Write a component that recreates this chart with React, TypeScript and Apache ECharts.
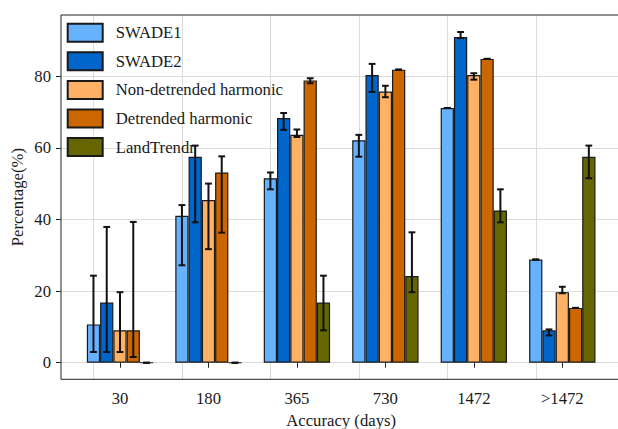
import React, { useEffect, useRef } from "react";
import * as echarts from "echarts";

const categories = ["30", "180", "365", "730", "1472", ">1472"];
const seriesNames = ["SWADE1", "SWADE2", "Non-detrended harmonic", "Detrended harmonic", "LandTrendr"];
const seriesColors = ["#66B2FF", "#0066CC", "#FFB266", "#CC6600", "#666600"];

const swade1 = [10.7, 41.0, 51.5, 62.1, 71.1, 28.8];
const swade1Low = [3.0, 27.2, 48.4, 57.5, 71.1, 28.8];
const swade1High = [24.3, 44.0, 53.1, 63.6, 71.1, 28.8];

const swade2 = [16.8, 57.5, 68.3, 80.3, 90.9, 9.05];
const swade2Low = [3.0, 39.2, 65.0, 75.6, 90.6, 7.6];
const swade2High = [37.9, 60.6, 69.7, 83.4, 92.3, 9.3];

const nonDet = [9.05, 45.4, 63.6, 75.7, 80.3, 19.7];
const nonDetLow = [3.0, 31.7, 63.0, 74.1, 79.0, 19.4];
const nonDetHigh = [19.7, 50.0, 65.1, 77.3, 80.8, 21.2];

const det = [9.05, 53.1, 78.8, 81.8, 84.8, 15.3];
const detLow = [1.6, 36.3, 78.0, 81.8, 84.8, 15.3];
const detHigh = [39.3, 57.6, 79.4, 81.8, 84.8, 15.3];

const landTrendr = [0, 0, 16.8, 24.2, 42.5, 57.5];
const landTrendrLow = [0, 0, 9.05, 19.7, 39.2, 51.5];
const landTrendrHigh = [0, 0, 24.3, 36.4, 48.4, 60.6];

const yTicks = [0, 20, 40, 60, 80];

const values = [swade1, swade2, nonDet, det, landTrendr];
const lows = [swade1Low, swade2Low, nonDetLow, detLow, landTrendrLow];
const highs = [swade1High, swade2High, nonDetHigh, detHigh, landTrendrHigh];

const W = 618;
const H = 429;
const Y_MIN = -4.62;
const Y_MAX = 97.05;
const PLOT_TOP = 15;
const PLOT_BOTTOM = 49.7;
const PLOT_H = H - PLOT_TOP - PLOT_BOTTOM;
const FONT = "'Liberation Serif', 'Times New Roman', serif";
const FS = 16.7;
const BAND_FRAC = 0.15;

export default function App() {
  const ref = useRef<HTMLDivElement>(null);
  useEffect(() => {
    if (!ref.current) return;
    const chart = echarts.init(ref.current, null, { renderer: "svg" });
    const range = Y_MAX - Y_MIN;
    const tMax = yTicks[yTicks.length - 1];
    const g1Top = PLOT_TOP + ((Y_MAX - tMax) / range) * PLOT_H;
    const g1Bottom = PLOT_BOTTOM + ((yTicks[0] - Y_MIN) / range) * PLOT_H;

    const errData: number[][] = [];
    values.forEach((_, k) => {
      categories.forEach((_c, i) => {
        errData.push([i, lows[k][i], highs[k][i], k]);
      });
    });

    const barSeries = seriesNames.map((name, k) => ({
      name,
      type: "bar",
      xAxisIndex: 0,
      yAxisIndex: 0,
      data: values[k],
      barGap: "0%",
      barCategoryGap: "25%",
      z: 2,
      itemStyle: { color: seriesColors[k], borderColor: "#1a1a1a", borderWidth: 1.2 },
      ...(k === 0
        ? {
            markLine: {
              silent: true,
              symbol: "none",
              z: 1,
              animation: false,
              label: { show: false },
              lineStyle: { color: "#dcdcdc", width: 1, type: "solid" },
              emphasis: { disabled: true },
              data: categories.map((c) => ({ xAxis: c })),
            },
          }
        : {}),
    }));

    chart.setOption({
      animation: false,
      backgroundColor: "#ffffff",
      textStyle: { fontFamily: FONT },
      grid: [
        { left: 75.77, top: PLOT_TOP, width: 530.76, bottom: PLOT_BOTTOM, outerBoundsMode: "none", containLabel: false },
        { left: 61, top: g1Top, width: 560, bottom: g1Bottom, outerBoundsMode: "none", containLabel: false },
        {
          left: 61,
          top: PLOT_TOP,
          width: 560,
          bottom: PLOT_BOTTOM,
          show: true,
          borderColor: "#222222",
          borderWidth: 1,
          backgroundColor: "transparent",
          z: 5,
          outerBoundsMode: "none",
          containLabel: false,
        },
      ],
      legend: {
        data: seriesNames,
        orient: "vertical",
        left: 66.7,
        top: 22.7,
        padding: 0,
        z: 20,
        itemWidth: 35,
        itemHeight: 18,
        itemGap: 8.6,
        icon: "rect",
        selectedMode: false,
        textStyle: {
          fontFamily: FONT,
          fontSize: FS,
          color: "#1a1a1a",
          padding: [0, 0, 0, 8],
          lineHeight: 18,
        },
      },
      xAxis: [
        {
          type: "category",
          gridIndex: 0,
          data: categories,
          axisLine: { show: false },
          axisTick: { show: true, alignWithLabel: true, length: 5, lineStyle: { color: "#222", width: 1 } },
          axisLabel: { fontFamily: FONT, fontSize: FS, color: "#1a1a1a", margin: 11 },
          splitLine: { show: false },
          name: "Accuracy (days)",
          nameLocation: "middle",
          nameGap: 32,
          nameTextStyle: { fontFamily: FONT, fontSize: FS, color: "#1a1a1a" },
        },
        { type: "value", gridIndex: 1, show: false, min: 0, max: 1 },
        { type: "value", gridIndex: 2, show: false, min: 0, max: 1 },
      ],
      yAxis: [
        {
          type: "value",
          gridIndex: 0,
          min: Y_MIN,
          max: Y_MAX,
          axisLine: { show: false },
          axisTick: { show: false },
          axisLabel: { show: false },
          splitLine: { show: false },
          name: "Percentage(%)",
          nameLocation: "middle",
          nameGap: 50,
          nameTextStyle: { fontFamily: FONT, fontSize: FS, color: "#1a1a1a" },
        },
        {
          type: "value",
          gridIndex: 1,
          min: yTicks[0],
          max: tMax,
          interval: 20,
          axisLine: { show: false },
          axisTick: { show: true, length: 5, lineStyle: { color: "#222", width: 1 } },
          axisLabel: { fontFamily: FONT, fontSize: FS, color: "#1a1a1a", margin: 10 },
          splitLine: { show: true, lineStyle: { color: "#dcdcdc", width: 1 } },
        },
        { type: "value", gridIndex: 2, show: false, min: 0, max: 1 },
      ],
      series: [
        ...barSeries,
        {
          type: "custom",
          name: "errors",
          xAxisIndex: 0,
          yAxisIndex: 0,
          z: 3,
          silent: true,
          encode: { x: 0, y: [1, 2] },
          data: errData,
          renderItem: (_params: any, api: any) => {
            const i = api.value(0);
            const lo = api.value(1);
            const hi = api.value(2);
            const k = api.value(3);
            const band = api.size([1, 0])[0];
            const x = api.coord([i, 0])[0] + (k - 2) * band * BAND_FRAC;
            const yLo = api.coord([i, lo])[1];
            const yHi = api.coord([i, hi])[1];
            const cap = 3.4;
            const style = { stroke: "#111111", lineWidth: 2, fill: null };
            return {
              type: "group",
              children: [
                { type: "line", shape: { x1: x, y1: yLo, x2: x, y2: yHi }, style },
                { type: "line", shape: { x1: x - cap, y1: yLo, x2: x + cap, y2: yLo }, style },
                { type: "line", shape: { x1: x - cap, y1: yHi, x2: x + cap, y2: yHi }, style },
              ],
            };
          },
        },
      ],
    });
    return () => chart.dispose();
  }, []);
  return (
    <div
      ref={ref}
      style={{ position: "fixed", left: 0, top: 0, width: W, height: H, background: "#fff" }}
    />
  );
}
